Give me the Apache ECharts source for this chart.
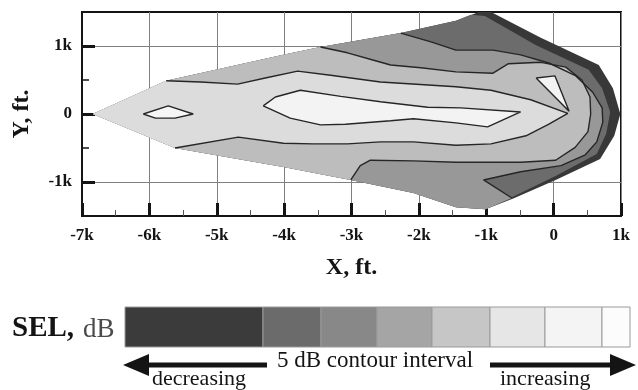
<!DOCTYPE html>
<html>
<head>
<meta charset="utf-8">
<script src="https://cdn.jsdelivr.net/npm/echarts@6/dist/echarts.min.js"></script>
<style>
  html, body { margin: 0; background: #fff; }
  #chart { width: 638px; height: 390px; }
</style>
</head>
<body>
<div id="chart"></div>
<script>
// footprint edges, ft (x = along track, y = cross track)
const edgeUpper = [[-6840, 0], [-5750, 490], [-4010, 870], [-3460, 985], [-2270, 1190], [-1450, 1370], [-1110, 1500]];
const edgeLower = [[-6840, 0], [-5620, -500], [-4010, -780], [-3010, -970], [-2080, -1160], [-1450, -1370], [-1010, -1400], [-590, -1240]];
const rimOuter = [[-930, 1500], [-190, 1120], [670, 720], [880, 380], [990, 0], [900, -320], [690, -660], [30, -970], [-590, -1240]];
const rimInner = [[-1230, 1460], [-1020, 1440], [-260, 1010], [520, 650], [720, 380], [840, 30], [780, -290], [640, -590], [30, -910], [-590, -1210]];

// 5 dB contour lines
const lineT = [[-2270, 1190], [-1820, 1060], [-1450, 940], [-900, 940], [-490, 870], [-70, 750], [330, 560], [580, 320], [720, 90], [730, -120], [640, -410], [470, -600], [110, -760], [-490, -850], [-1040, -970], [-620, -1235]];
const lineBC = [[-3460, 985], [-3060, 900], [-2670, 790], [-2420, 720], [-1970, 680], [-1450, 620], [-900, 600], [-670, 740], [-190, 760], [180, 690], [420, 500], [540, 250], [550, 0], [510, -260], [320, -490], [30, -680], [-490, -710], [-970, -710], [-1450, -710], [-2080, -690], [-2720, -680], [-2870, -760], [-3010, -970]];
const lineC = [[-5750, 490], [-5240, 470], [-4690, 440], [-4280, 530], [-3800, 630], [-3310, 570], [-2570, 470], [-1450, 400], [-930, 350], [-340, 210], [210, 10], [-70, -150], [-410, -320], [-930, -440], [-1450, -460], [-2080, -410], [-2570, -410], [-3060, -440], [-3570, -440], [-4010, -430], [-4680, -340], [-5620, -500]];
const coreLoop = [[-4310, 120], [-4130, 250], [-3760, 350], [-3160, 260], [-2570, 180], [-1870, 100], [-1380, 90], [-490, 30], [-980, -190], [-1450, -130], [-2080, -70], [-2420, -100], [-3090, -150], [-3460, -160], [-3910, -60], [-4310, 120]];
const tailLoop = [[-6090, 0], [-5720, 120], [-5350, 0], [-5620, -60], [-5910, -60], [-6090, 0]];
const noseLoop = [[-260, 530], [20, 560], [230, 40], [-260, 530]];

const xTickLabels = ['-7k', '-6k', '-5k', '-4k', '-3k', '-2k', '-1k', '0', '1k'];
const yTickLabels = { '-1000': '-1k', '0': '0', '1000': '1k' };

const footprint = [...edgeUpper, ...rimOuter, ...edgeLower.slice(0, -1).reverse()];
const insideRim = [...edgeUpper.slice(0, 6), ...rimInner, ...edgeLower.slice(0, -1).reverse()];
const band3 = [...edgeUpper.slice(0, 5), ...lineT.slice(1), ...edgeLower.slice(0, 7).reverse()];
const band4 = [...edgeUpper.slice(0, 4), ...lineBC.slice(1), ...edgeLower.slice(0, 3).reverse()];
const band5 = [edgeUpper[0], ...lineC];
const shadeRegions = [footprint, insideRim, band3, band4, band5, coreLoop, tailLoop, noseLoop];
const shadeFills = ['#383838', '#6c6c6c', '#989898', '#bdbdbd', '#dcdcdc', '#f3f3f3', '#f6f6f6', '#f3f3f3'];
const contourLines = [lineT, lineBC, lineC, coreLoop, tailLoop, noseLoop];

const serif = "'Liberation Serif', 'DejaVu Serif', serif";
const ink = '#141414';

const chart = echarts.init(document.getElementById('chart'), null, { renderer: 'canvas' });

// SEL legend strip
const legendEdges = [125, 263, 321, 377, 432, 490, 545, 602, 630];
const legendShades = ['#3b3b3b', '#6b6b6b', '#888888', '#a5a5a5', '#c6c6c6', '#e6e6e6', '#f4f4f4', '#fcfcfc'];
const legendGraphics = legendShades.map((c, i) => ({
  type: 'rect',
  shape: { x: legendEdges[i], y: 307, width: legendEdges[i + 1] - legendEdges[i], height: 40 },
  style: { fill: c, stroke: '#9a9a9a', lineWidth: 1 }
}));

const option = {
  animation: false,
  backgroundColor: '#fff',
  grid: { left: 82, top: 12, width: 539, height: 204, show: true, borderColor: ink, borderWidth: 2, backgroundColor: '#fff' },
  xAxis: {
    type: 'value', min: -7000, max: 1000, interval: 1000,
    name: 'X, ft.', nameLocation: 'middle', nameGap: 40,
    nameTextStyle: { fontFamily: serif, fontWeight: 'bold', fontSize: 24, color: ink },
    axisLine: { show: true, onZero: false, lineStyle: { color: ink, width: 2 } },
    axisTick: { show: true, inside: true, length: 13, lineStyle: { color: ink, width: 3 } },
    minorTick: { show: true, splitNumber: 2, length: 6, lineStyle: { color: '#555', width: 1 } },
    axisLabel: {
      show: true, margin: 11, showMinLabel: true, showMaxLabel: true,
      fontFamily: serif, fontWeight: 'bold', fontSize: 17, color: ink,
      formatter: v => xTickLabels[Math.round((v + 7000) / 1000)]
    },
    splitLine: { show: true, lineStyle: { color: '#808080', width: 1 } }
  },
  yAxis: [{
    type: 'value', min: -1500, max: 1500, interval: 500,
    name: 'Y, ft.', nameLocation: 'middle', nameGap: 48,
    nameTextStyle: { fontFamily: serif, fontWeight: 'bold', fontSize: 24, color: ink },
    axisLine: { show: true, onZero: false, lineStyle: { color: ink, width: 2 } },
    axisTick: { show: true, inside: true, length: 7, lineStyle: { color: ink, width: 1.5 } },
    axisLabel: {
      margin: 10, fontFamily: serif, fontWeight: 'bold', fontSize: 17, color: ink,
      formatter: v => yTickLabels[String(v)] || ''
    },
    splitLine: {
      show: true,
      lineStyle: { color: ['transparent', '#808080', 'transparent', 'transparent', 'transparent', '#808080', 'transparent'], width: 1 }
    }
  }, {
    type: 'value', min: -1500, max: 1500, position: 'left',
    axisLine: { show: false, onZero: false },
    axisLabel: { show: false },
    splitLine: { show: false },
    axisTick: { show: true, inside: true, length: 13, customValues: [-1000, 0, 1000], lineStyle: { color: ink, width: 3 } }
  }],
  series: [
    {
      type: 'custom',
      coordinateSystem: 'cartesian2d',
      silent: true,
      data: shadeRegions.map(r => r[0]),
      renderItem: (params, api) => ({
        type: 'polygon',
        shape: { points: shadeRegions[params.dataIndex].map(p => api.coord(p)) },
        style: { fill: shadeFills[params.dataIndex], stroke: null }
      })
    },
    ...contourLines.map(pts => ({
      type: 'line',
      data: pts,
      symbol: 'none',
      silent: true,
      lineStyle: { color: '#262626', width: 1.4 }
    }))
  ],
  graphic: [
    { type: 'text', left: 12, top: 314, style: { text: 'SEL,', font: `bold 29px ${serif}`, fill: ink } },
    { type: 'text', left: 83, top: 316, style: { text: 'dB', font: `27px ${serif}`, fill: '#4a4a4a' } },
    ...legendGraphics,
    {
      type: 'polygon',
      shape: { points: [[123, 365], [149, 354], [149, 362.5], [267, 362.5], [267, 367.5], [149, 367.5], [149, 376]] },
      style: { fill: ink }
    },
    {
      type: 'polygon',
      shape: { points: [[636, 365], [610, 354], [610, 362.5], [490, 362.5], [490, 367.5], [610, 367.5], [610, 376]] },
      style: { fill: ink }
    },
    { type: 'text', left: 277, top: 349, style: { text: '5 dB contour interval', font: `23px ${serif}`, fill: ink } },
    { type: 'text', left: 152, top: 368, style: { text: 'decreasing', font: `22px ${serif}`, fill: ink } },
    { type: 'text', left: 500, top: 368, style: { text: 'increasing', font: `22px ${serif}`, fill: ink } }
  ]
};

chart.setOption(option);
</script>
</body>
</html>
